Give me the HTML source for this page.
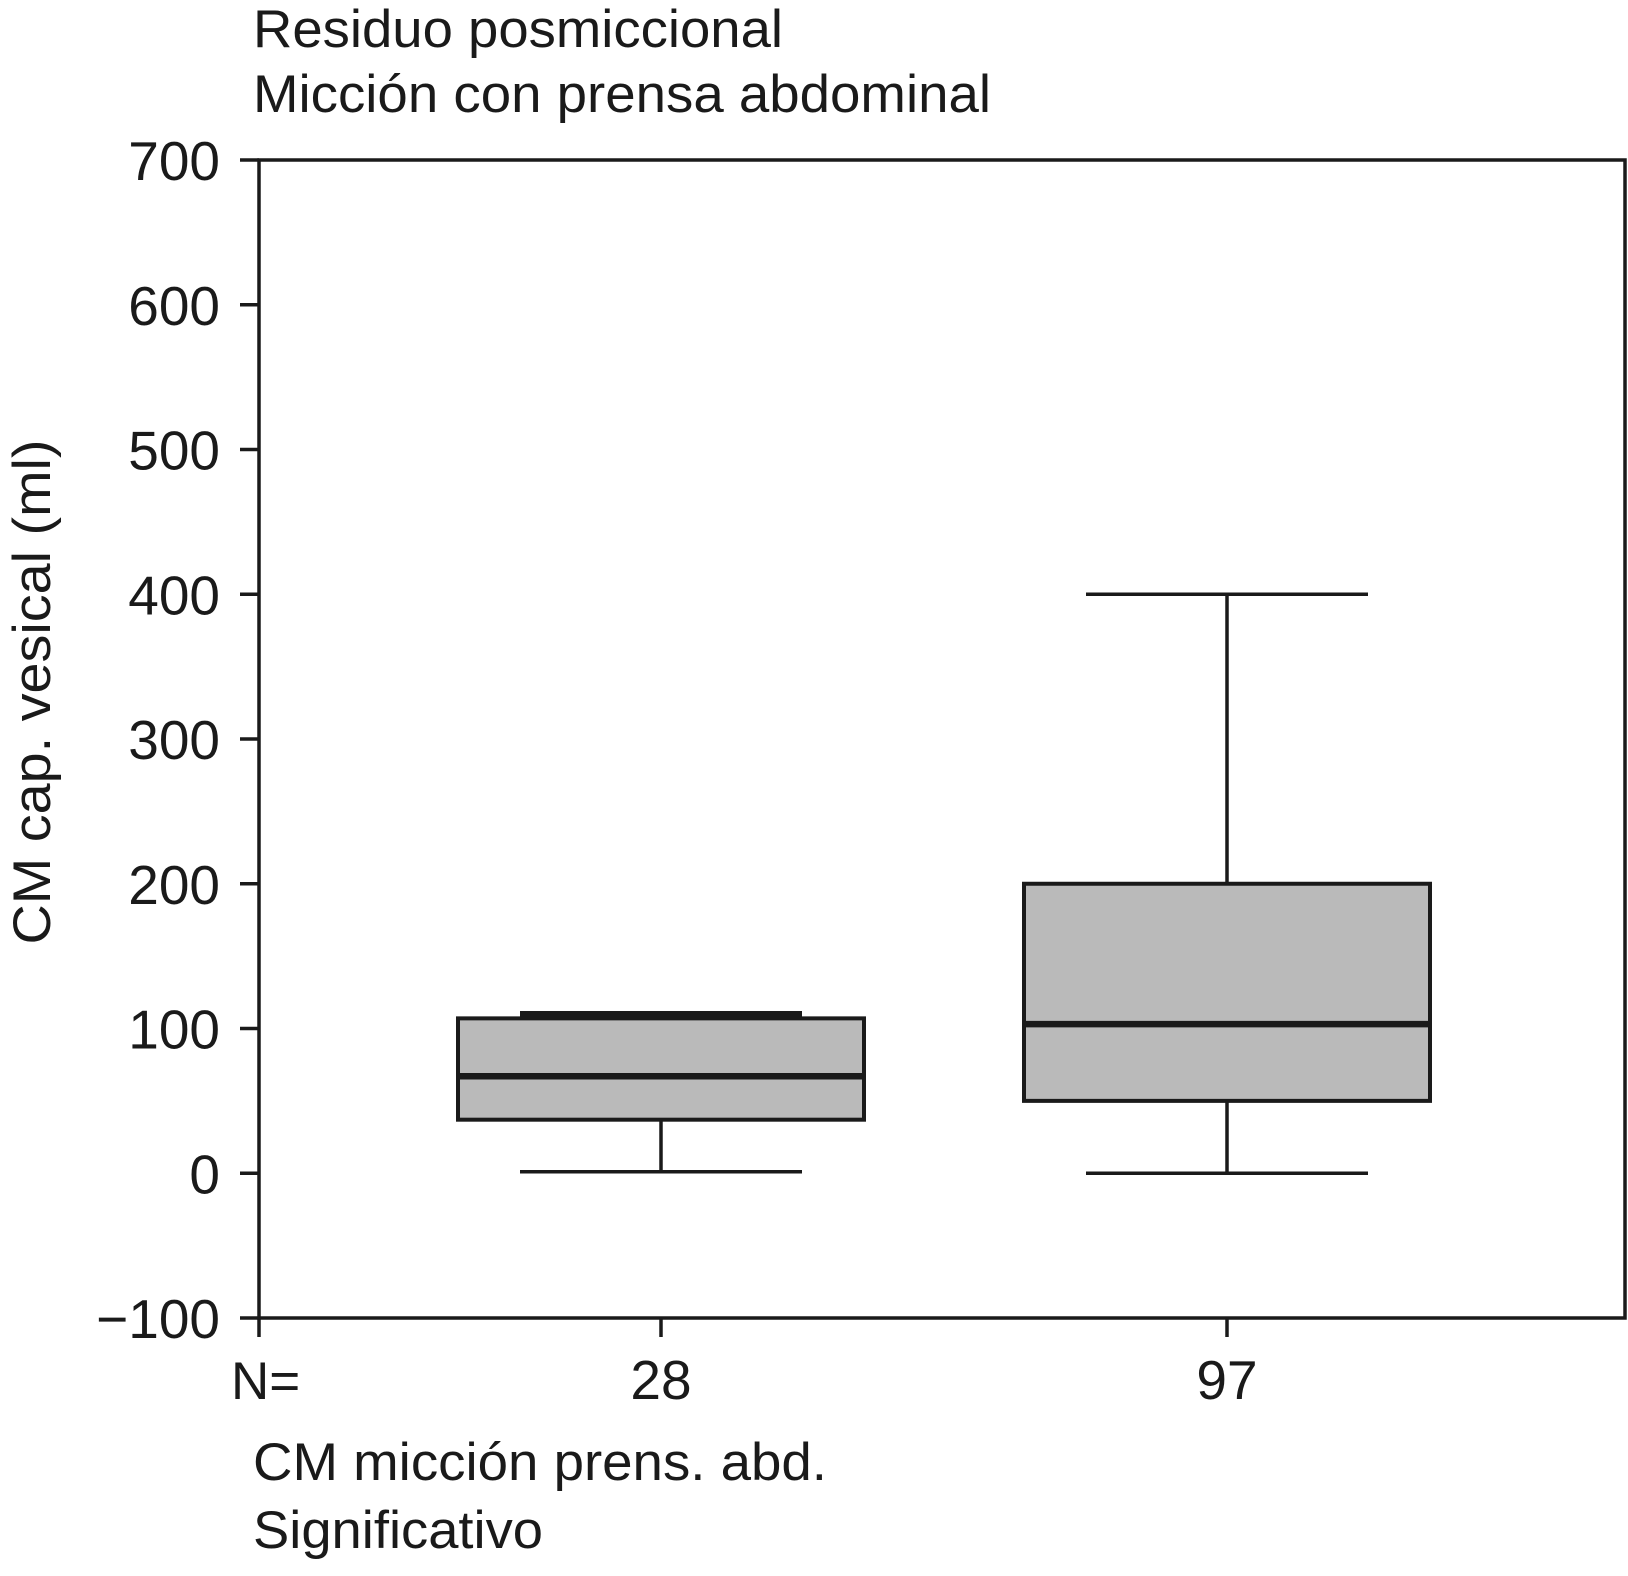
<!DOCTYPE html>
<html><head><meta charset="utf-8"><style>
html,body{margin:0;padding:0;background:#fff;}
svg{display:block;font-family:"Liberation Sans",sans-serif;}
</style></head><body>
<svg id="chart" width="1628" height="1576" viewBox="0 0 1628 1576">
<text x="253" y="47" font-size="53" fill="#1a1a1a" textLength="530" lengthAdjust="spacingAndGlyphs">Residuo posmiccional</text>
<text x="253" y="112" font-size="53" fill="#1a1a1a" textLength="738" lengthAdjust="spacingAndGlyphs">Micción con prensa abdominal</text>
<text transform="translate(50,692) rotate(-90)" text-anchor="middle" font-size="53" fill="#1a1a1a" textLength="505" lengthAdjust="spacingAndGlyphs">CM cap. vesical (ml)</text>
<rect x="259" y="160" width="1366" height="1158" fill="none" stroke="#1a1a1a" stroke-width="3.5"/>
<g id="yticks"></g>
<g id="xticks"></g>
<g id="boxes"></g>
<text x="231" y="1399" font-size="53" fill="#1a1a1a">N=</text>
<text x="253" y="1480" font-size="53" fill="#1a1a1a" textLength="574" lengthAdjust="spacingAndGlyphs">CM micción prens. abd.</text>
<text x="253" y="1548" font-size="53" fill="#1a1a1a" textLength="290" lengthAdjust="spacingAndGlyphs">Significativo</text>
</svg>
<script>
const categories = ["28", "97"];
const whiskerLow = [1, 0];
const q1 = [37, 50];
const median = [67, 103];
const q3 = [107, 200];
const whiskerHigh = [110, 400];
const yTicks = [-100, 0, 100, 200, 300, 400, 500, 600, 700];
const yTickLabels = ["\u2212100", "0", "100", "200", "300", "400", "500", "600", "700"];

const NS = "http://www.w3.org/2000/svg";
const plotTop = 160, plotBottom = 1318, yMin = -100, yMax = 700;
function y(v){ return plotBottom - (v - yMin) / (yMax - yMin) * (plotBottom - plotTop); }
const xCenters0 = 661, xStep = 566;
function x(i){ return xCenters0 + i * xStep; }
function mk(tag, attrs, parent){
  const e = document.createElementNS(NS, tag);
  for (const k in attrs) e.setAttribute(k, attrs[k]);
  parent.appendChild(e);
  return e;
}
const stroke = "#1a1a1a";
const gy = document.getElementById("yticks");
yTicks.forEach((v, i) => {
  const l = mk("line", {x1: 240, x2: 259, y1: y(v), y2: y(v), stroke: stroke, "stroke-width": 3.5}, gy);
  
  
  const t = mk("text", {x: 220, y: y(v) + 20, "text-anchor": "end", "font-size": 55, fill: stroke}, gy);
  t.textContent = yTickLabels[i];
  
  
});
const gx = document.getElementById("xticks");
const lt = mk("line", {x1: 259, x2: 259, y1: 1318, y2: 1337, stroke: stroke, "stroke-width": 3.5}, gx);


categories.forEach((c, i) => {
  const l = mk("line", {x1: x(i), x2: x(i), y1: 1318, y2: 1337, stroke: stroke, "stroke-width": 3.5}, gx);
  
  
  const t = mk("text", {x: x(i), y: 1399, "text-anchor": "middle", "font-size": 55, fill: stroke}, gx);
  t.textContent = c;
  
  
});
const gb = document.getElementById("boxes");
const halfBox = 203, halfCap = 141;
categories.forEach((c, i) => {
  const cx = x(i);
  const g = mk("g", {}, gb);
  
  
  const w1 = mk("line", {x1: cx, x2: cx, y1: y(whiskerHigh[i]), y2: y(q3[i]), stroke: stroke, "stroke-width": 3.5}, g);
  
  
  const w2 = mk("line", {x1: cx, x2: cx, y1: y(q1[i]), y2: y(whiskerLow[i]), stroke: stroke, "stroke-width": 3.5}, g);
  
  
  const b = mk("rect", {x: cx - halfBox, y: y(q3[i]), width: 2 * halfBox, height: y(q1[i]) - y(q3[i]), fill: "#bababa", stroke: stroke, "stroke-width": 4}, g);
  
  
  const m = mk("line", {x1: cx - halfBox, x2: cx + halfBox, y1: y(median[i]), y2: y(median[i]), stroke: stroke, "stroke-width": 6.5}, g);
  
  
  const c1 = mk("line", {x1: cx - halfCap, x2: cx + halfCap, y1: y(whiskerHigh[i]), y2: y(whiskerHigh[i]), stroke: stroke, "stroke-width": i === 0 ? 6 : 3.5}, g);
  
  
  const c2 = mk("line", {x1: cx - halfCap, x2: cx + halfCap, y1: y(whiskerLow[i]), y2: y(whiskerLow[i]), stroke: stroke, "stroke-width": 3.5}, g);
  
  
});
</script>
</body></html>
